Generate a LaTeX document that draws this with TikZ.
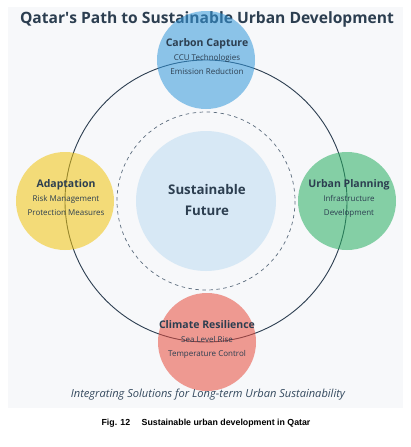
\documentclass[tikz,border=0pt]{standalone}
\usepackage{fontspec}
\setmainfont{Open Sans}
\newfontfamily\capfont{Liberation Sans}
\usetikzlibrary{positioning}

\definecolor{navy}{HTML}{2C3E50}
\definecolor{slate}{HTML}{34495E}
\definecolor{panel}{HTML}{F7F8FA}
\definecolor{ringgray}{HTML}{5D6D7E}
\definecolor{ccblue}{HTML}{3498DB}
\definecolor{adyellow}{HTML}{F1C40F}
\definecolor{upgreen}{HTML}{27AE60}
\definecolor{crred}{HTML}{E74C3C}
\newcommand{\pillarhead}{\fontsize{10.5}{14}\selectfont\bfseries}

\begin{document}
\begin{tikzpicture}[x=1pt, y=-1pt,
  hub/.style={circle, fill=ccblue, fill opacity=0.16, minimum size=140pt, inner sep=0pt},
  pillar/.style={circle, minimum size=98pt, inner sep=0pt, fill opacity=0.55},
  txt/.style={align=center, text=navy, font=\fontsize{8}{14}\selectfont}]
\useasboundingbox (0,0) rectangle (411,447);
\fill[panel] (8,7) rectangle (403,408);

% Title
\node[text=navy, font=\fontsize{15.6}{18}\selectfont\bfseries] (title) at (207,19) {Qatar\textquotesingle s Path to Sustainable Urban Development};

% Rings round the centre
\coordinate (mid) at (206,201);
\draw[navy, line width=0.9pt] (mid) circle[radius=141];
\draw[ringgray, line width=0.7pt, dash pattern=on 3.5pt off 3.5pt] (mid) circle[radius=89];

% Centre
\node[hub] (core) at (mid) {};
\node[text=navy, align=center, font=\fontsize{13.3}{21}\selectfont\bfseries] (corelbl) at (207,200) {Sustainable\\Future};

% Four pillars on the outer ring
\node[pillar, fill=ccblue] (carbon) at (206,60) {};
\node[pillar, fill=adyellow] (adapt) at (65,201) {};
\node[pillar, fill=upgreen] (urban) at (347,201) {};
\node[pillar, fill=crred] (climate) at (207,342) {};

\node[txt] (carbonlbl) at (207,57) {{\pillarhead Carbon Capture}\\CCU Technologies\\Emission Reduction};
\node[txt] (adaptlbl) at (66,198) {{\pillarhead Adaptation}\\Risk Management\\Protection Measures};
\node[txt] (urbanlbl) at (349,198) {{\pillarhead Urban Planning}\\Infrastructure\\Development};
\node[txt] (climatelbl) at (207,339) {{\pillarhead Climate Resilience}\\Sea Level Rise\\Temperature Control};

% Bottom line and caption
\node[text=slate, font=\fontsize{11.1}{12}\selectfont\itshape] (motto) at (208,395) {Integrating Solutions for Long-term Urban Sustainability};
\node[font=\capfont\fontsize{8.8}{10}\selectfont\bfseries] (caption) at (206,423) {Fig. 12\hspace{1.3em}Sustainable urban development in Qatar};
\end{tikzpicture}
\end{document}
